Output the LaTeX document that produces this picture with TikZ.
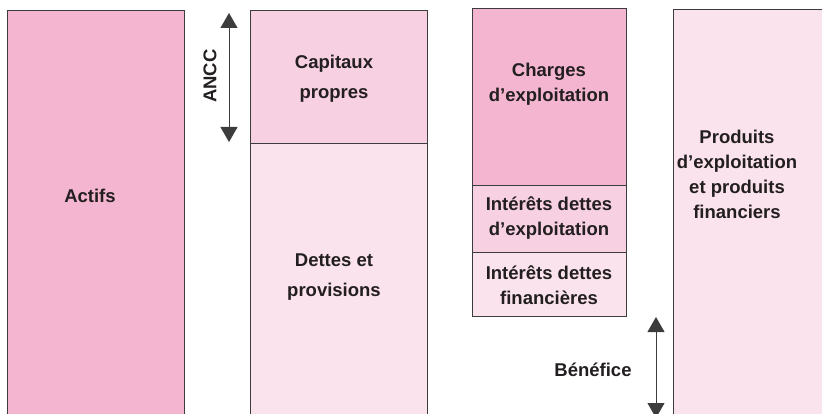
\documentclass[tikz,border=0pt]{standalone}
\usepackage{fontspec}
\setmainfont{Liberation Sans}
\usetikzlibrary{arrows.meta,positioning}

\definecolor{rose}{HTML}{F3B5CF}
\definecolor{rosemid}{HTML}{F7D0E2}
\definecolor{roselight}{HTML}{FAE3EC}
\definecolor{trait}{HTML}{3C3C3C}
\definecolor{encre}{HTML}{231F20}

\begin{document}
\begin{tikzpicture}[%
    x=1pt, y=-1pt,
    >={Triangle[width=17pt,length=15pt]},
    box/.style={draw=trait, line width=0.9pt, inner sep=0pt, outer sep=0pt, anchor=north west},
    lbl/.style={align=center, text=encre, font=\bfseries\fontsize{18.5}{25}\selectfont},
    lblbilan/.style={lbl, font=\bfseries\fontsize{18.5}{30}\selectfont},
    fleche/.style={<->, draw=trait, line width=0.9pt}
  ]
  \useasboundingbox (0,0) rectangle (822,414);
  \clip (0,0) rectangle (822,414);

  % bilan
  \node[box, fill=rose, minimum width=177pt, minimum height=420pt] (actifs) at (7,10) {};
  \node[box, fill=rosemid, minimum width=177pt, minimum height=133pt] (capitaux) at (250,10) {};
  \node[box, fill=roselight, minimum width=177pt, minimum height=290pt, below=0pt of capitaux] (dettes) {};

  % compte de resultat
  \node[box, fill=rose, minimum width=154pt, minimum height=177pt] (charges) at (472,8) {};
  \node[box, fill=rosemid, minimum width=154pt, minimum height=67pt, below=0pt of charges] (intexpl) {};
  \node[box, fill=roselight, minimum width=154pt, minimum height=64pt, below=0pt of intexpl] (intfin) {};
  \node[box, fill=roselight, minimum width=170pt, minimum height=420pt] (produits) at (673,9) {};

  % textes
  \node[lbl] (tactifs) at (90,196) {Actifs};
  \node[lblbilan] (tcapitaux) at (334,79) {Capitaux\\propres};
  \node[lblbilan] (tdettes) at (334,277) {Dettes et\\provisions};
  \node[lbl] (tcharges) at (549,84) {Charges\\d'exploitation};
  \node[lbl] (tintexpl) at (549,218) {Intérêts dettes\\d'exploitation};
  \node[lbl] (tintfin) at (549,285) {Intérêts dettes\\financières};
  \node[lbl] (tproduits) at (737,174) {Produits\\d'exploitation\\et produits\\financiers};
  \node[lbl] (tbenefice) at (593,370) {Bénéfice};
  \node[lbl, rotate=90] (tancc) at (210,76) {ANCC};

  % fleches
  \coordinate (ancchaut) at (229,13);
  \coordinate (anccbas) at (229,142);
  \coordinate (benefhaut) at (656,317);
  \coordinate (benefbas) at (656,418);
  \draw[fleche] (ancchaut) -- (anccbas);
  \draw[fleche] (benefhaut) -- (benefbas);

\end{tikzpicture}
\end{document}
